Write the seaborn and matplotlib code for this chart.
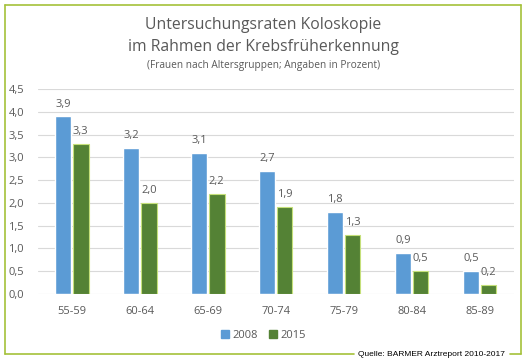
import numpy as np
import pandas as pd
import seaborn as sns
import matplotlib.pyplot as plt
from matplotlib.lines import Line2D

age_groups = ['55-59', '60-64', '65-69', '70-74', '75-79', '80-84', '85-89']
rates_2008 = [3.9, 3.2, 3.1, 2.7, 1.8, 0.9, 0.5]
rates_2015 = [3.3, 2.0, 2.2, 1.9, 1.3, 0.5, 0.2]
years = ['2008', '2015']
yticks = [0.0, 0.5, 1.0, 1.5, 2.0, 2.5, 3.0, 3.5, 4.0, 4.5]

blue = '#5b9bd5'
green = '#548235'
textgray = '#595959'
frame = '#a4c13a'

df = pd.DataFrame({
    'Altersgruppe': age_groups * 2,
    'Rate': rates_2008 + rates_2015,
    'Jahr': [years[0]] * len(age_groups) + [years[1]] * len(age_groups),
})

sns.set_style('white')
plt.rcParams['font.family'] = ['Open Sans', 'DejaVu Sans']

f = plt.figure(figsize=(5.27, 3.61), dpi=100)
ax = f.add_axes([0.072, 0.186, 0.903, 0.567])

sns.barplot(ax=ax, data=df, x='Altersgruppe', y='Rate', hue='Jahr',
            order=age_groups, hue_order=years, palette=[blue, green],
            width=0.52, gap=0.12, errorbar=None, saturation=1, legend=False)

# light edge on the green bars
for p in ax.containers[1]:
    p.set_edgecolor('#c5e07a')
    p.set_linewidth(0.8)

for cont in ax.containers:
    ax.bar_label(cont, labels=['{:.1f}'.format(v).replace('.', ',') for v in cont.datavalues],
                 padding=5, fontsize=8, color=textgray)

ax.set_ylim(0, 4.5)
ax.set_xlim(-0.5, len(age_groups) - 0.5)
ax.set_yticks(yticks)
ax.set_yticklabels(['{:.1f}'.format(v).replace('.', ',') for v in yticks])
ax.tick_params(axis='both', length=0, labelsize=8, labelcolor=textgray)
ax.tick_params(axis='x', pad=9)
ax.tick_params(axis='y', pad=10)
ax.set(xlabel=None, ylabel=None)
ax.set_axisbelow(True)
ax.yaxis.grid(True, color='#d9d9d9', linewidth=0.8)
sns.despine(ax=ax, left=True, bottom=True)

# Legend
handles = [plt.Rectangle((0, 0), 1, 1, color=blue), plt.Rectangle((0, 0), 1, 1, color=green)]
f.legend(handles=handles, labels=years, loc='center', bbox_to_anchor=(0.5, 0.072),
         ncol=2, frameon=False, fontsize=8, handlelength=0.7, handleheight=0.7,
         handletextpad=0.3, columnspacing=1.0, labelcolor=textgray)

# Titles
f.text(0.5, 0.93, 'Untersuchungsraten Koloskopie', ha='center', va='center',
       fontsize=11.3, color=textgray)
f.text(0.5, 0.87, 'im Rahmen der Krebsfrüherkennung', ha='center', va='center',
       fontsize=11.3, color=textgray)
f.text(0.5, 0.818, '(Frauen nach Altersgruppen; Angaben in Prozent)', ha='center', va='center',
       fontsize=7.3, color=textgray)

# Frame with gap for the source
W, H = 527.0, 361.0
x0, x1, y0, y1 = 5 / W, 521 / W, 1 - 5 / H, 1 - 354 / H
lw = 1.2
for xs, ys in [([x0, x1], [y0, y0]), ([x0, x0], [y0, y1]), ([x1, x1], [y0, y1]),
               ([x0, 354 / W], [y1, y1]), ([510 / W, x1], [y1, y1])]:
    f.add_artist(Line2D(xs, ys, color=frame, linewidth=lw, transform=f.transFigure))
f.text(431 / W, y1, 'Quelle: BARMER Arztreport 2010-2017', ha='center', va='center',
       fontsize=6.0, color='black', family=['Liberation Sans', 'DejaVu Sans'])

f.savefig('out.png', dpi=100, facecolor='white')
